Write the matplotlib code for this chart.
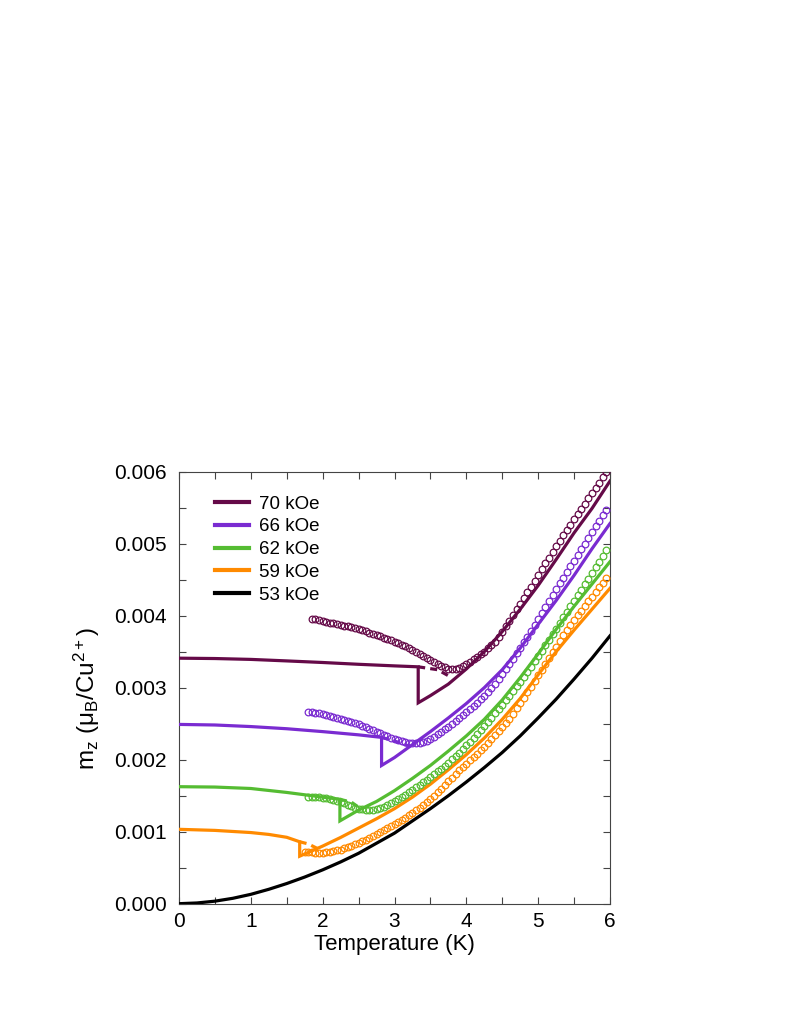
import numpy as np
import matplotlib
matplotlib.use("Agg")
import matplotlib.pyplot as plt
from matplotlib.ticker import MultipleLocator, FormatStrFormatter

plt.rcParams['font.family'] = ['Liberation Sans', 'DejaVu Sans']
plt.rcParams['mathtext.fontset'] = 'custom'
plt.rcParams['mathtext.rm'] = 'Liberation Sans'
plt.rcParams['mathtext.it'] = 'Liberation Sans'

fields = ["70 kOe", "66 kOe", "62 kOe", "59 kOe", "53 kOe"]
colors = ["#650A48", "#7A2BD1", "#55BC32", "#FF8A00", "#000000"]

# ---- model curves: high-field branch, then low branch after the jump ----
t70_hi = [0, 0.5, 1, 1.5, 2, 2.5, 3, 3.33]
m70_hi = [0.00341, 0.003405, 0.003393, 0.003372, 0.00335, 0.003325, 0.003303, 0.00329]
t70_lo = [3.33, 3.5, 3.75, 4.0, 4.25, 4.5, 4.75, 5.0, 5.25, 5.5, 5.75, 6.0]
m70_lo = [0.00279, 0.00289, 0.00305, 0.00326, 0.0035, 0.00378, 0.00409, 0.00442, 0.00478, 0.00515, 0.00549, 0.00587]
t70_ds = [3.33, 3.6, 3.78]
m70_ds = [0.00329, 0.00325, 0.00315]

t66_hi = [0, 0.5, 1, 1.5, 2, 2.5, 2.82]
m66_hi = [0.00249, 0.002482, 0.00246, 0.00243, 0.00239, 0.002345, 0.00231]
t66_lo = [2.82, 3.0, 3.25, 3.5, 3.75, 4.0, 4.25, 4.5, 4.75, 5.0, 5.25, 5.5, 5.75, 6.0]
m66_lo = [0.00192, 0.00203, 0.00221, 0.00239, 0.00258, 0.00278, 0.003, 0.00325, 0.00355, 0.00388, 0.00421, 0.00456, 0.00493, 0.00528]
t66_ds = [2.82, 3.0, 3.2]
m66_ds = [0.00231, 0.00226, 0.00219]

t62_hi = [0, 0.5, 1, 1.5, 2, 2.24]
m62_hi = [0.001625, 0.00162, 0.0016, 0.001545, 0.00148, 0.00145]
t62_lo = [2.24, 2.5, 2.75, 3.0, 3.25, 3.5, 3.75, 4.0, 4.25, 4.5, 4.75, 5.0, 5.25, 5.5, 5.75, 6.0]
m62_lo = [0.00115, 0.0013, 0.00142, 0.00157, 0.00174, 0.00192, 0.00212, 0.00233, 0.00256, 0.00283, 0.00314, 0.00347, 0.00381, 0.00413, 0.00444, 0.00475]
t62_ds = [2.24, 2.4, 2.5]
m62_ds = [0.00145, 0.00141, 0.00134]

t59_hi = [0, 0.5, 1, 1.25, 1.5, 1.68]
m59_hi = [0.001033, 0.001018, 0.000988, 0.000962, 0.000922, 0.00086]
t59_lo = [1.68, 2.0, 2.25, 2.5, 2.75, 3.0, 3.25, 3.5, 3.75, 4.0, 4.25, 4.5, 4.75, 5.0, 5.25, 5.5, 5.75, 6.0]
m59_lo = [0.00066, 0.0008, 0.00092, 0.00105, 0.00118, 0.00132, 0.00148, 0.00166, 0.00186, 0.00207, 0.0023, 0.00256, 0.00285, 0.00318, 0.0035, 0.0038, 0.00409, 0.00438]
t59_ds = [1.68, 1.8, 1.92]
m59_ds = [0.00086, 0.00083, 0.00077]

t53 = [0, 0.25, 0.5, 0.75, 1, 1.25, 1.5, 1.75, 2, 2.25, 2.5, 2.75, 3, 3.25, 3.5, 3.75, 4, 4.25, 4.5, 4.75, 5, 5.25, 5.5, 5.75, 6]
m53 = [0, 0.00001, 0.000035, 0.000075, 0.00013, 0.0002, 0.00028, 0.00037, 0.00047, 0.00058, 0.0007, 0.00084, 0.00098, 0.00115, 0.00132, 0.0015, 0.00169, 0.00189, 0.0021, 0.00233, 0.00258, 0.00284, 0.00312, 0.00341, 0.00372]

# ---- measured data (open circles), T from start to end in 0.05 K steps ----
d70_t = (1.85, 5.95)
d70_m = [0.003960, 0.003950, 0.003940, 0.003930, 0.003918, 0.003905, 0.003892, 0.003882, 0.003872, 0.003862,
         0.003852, 0.003842, 0.003830, 0.003816, 0.003800, 0.003784, 0.003766, 0.003748, 0.003730, 0.003713,
         0.003695, 0.003677, 0.003658, 0.003640, 0.003620, 0.003598, 0.003576, 0.003553, 0.003528, 0.003500,
         0.003472, 0.003444, 0.003416, 0.003388, 0.003360, 0.003333, 0.003307, 0.003283, 0.003266, 0.003256,
         0.003255, 0.003268, 0.003296, 0.003330, 0.003362, 0.003395, 0.003428, 0.003462, 0.003500, 0.003545,
         0.003592, 0.003640, 0.003700, 0.003770, 0.003850, 0.003930, 0.004010, 0.004088, 0.004166, 0.004245,
         0.004325, 0.004405, 0.004485, 0.004565, 0.004645, 0.004725, 0.004805, 0.004885, 0.004962, 0.005040,
         0.005115, 0.005190, 0.005265, 0.005340, 0.005412, 0.005484, 0.005556, 0.005628, 0.005700, 0.005775,
         0.005850, 0.005925, 0.006000]

d66_t = (1.80, 5.95)
d66_m = [0.002667, 0.002660, 0.002652, 0.002644, 0.002634, 0.002622, 0.002610, 0.002597, 0.002583, 0.002569,
         0.002555, 0.002540, 0.002524, 0.002508, 0.002490, 0.002470, 0.002450, 0.002430, 0.002410, 0.002389,
         0.002368, 0.002348, 0.002328, 0.002308, 0.002290, 0.002272, 0.002255, 0.002240, 0.002230, 0.002225,
         0.002226, 0.002232, 0.002245, 0.002265, 0.002290, 0.002320, 0.002352, 0.002386, 0.002422, 0.002460,
         0.002498, 0.002536, 0.002575, 0.002615, 0.002658, 0.002702, 0.002747, 0.002793, 0.002840, 0.002888,
         0.002938, 0.002990, 0.003050, 0.003116, 0.003184, 0.003254, 0.003326, 0.003400, 0.003476, 0.003552,
         0.003630, 0.003710, 0.003790, 0.003870, 0.003950, 0.004035, 0.004120, 0.004205, 0.004287, 0.004368,
         0.004448, 0.004528, 0.004607, 0.004686, 0.004765, 0.004844, 0.004923, 0.005002, 0.005081, 0.005160,
         0.005240, 0.005320, 0.005400, 0.005475]

d62_t = (1.80, 5.95)
d62_m = [0.001486, 0.001484, 0.001481, 0.001476, 0.001469, 0.001461, 0.001451, 0.001440, 0.001427, 0.001412,
         0.001395, 0.001375, 0.001354, 0.001335, 0.001320, 0.001310, 0.001304, 0.001302, 0.001306, 0.001314,
         0.001326, 0.001345, 0.001368, 0.001393, 0.001420, 0.001450, 0.001481, 0.001513, 0.001546, 0.001580,
         0.001615, 0.001650, 0.001686, 0.001723, 0.001760, 0.001798, 0.001837, 0.001877, 0.001918, 0.001960,
         0.002003, 0.002050, 0.002099, 0.002149, 0.002200, 0.002252, 0.002305, 0.002359, 0.002414, 0.002470,
         0.002527, 0.002585, 0.002644, 0.002704, 0.002765, 0.002827, 0.002890, 0.002954, 0.003019, 0.003085,
         0.003152, 0.003220, 0.003289, 0.003366, 0.003440, 0.003516, 0.003592, 0.003668, 0.003745, 0.003822,
         0.003899, 0.003976, 0.004053, 0.004130, 0.004207, 0.004284, 0.004361, 0.004438, 0.004515, 0.004592,
         0.004670, 0.004750, 0.004830, 0.004910]

d59_t = (1.75, 5.95)
d59_m = [0.000720, 0.000716, 0.000712, 0.000709, 0.000707, 0.000708, 0.000712, 0.000719, 0.000728, 0.000739,
         0.000752, 0.000767, 0.000784, 0.000803, 0.000824, 0.000846, 0.000868, 0.000890, 0.000913, 0.000938,
         0.000963, 0.000990, 0.001017, 0.001045, 0.001074, 0.001103, 0.001133, 0.001164, 0.001196, 0.001229,
         0.001263, 0.001298, 0.001334, 0.001371, 0.001409, 0.001455, 0.001500, 0.001548, 0.001597, 0.001647,
         0.001698, 0.001750, 0.001800, 0.001850, 0.001898, 0.001945, 0.001990, 0.002035, 0.002080, 0.002128,
         0.002178, 0.002230, 0.002283, 0.002337, 0.002392, 0.002448, 0.002505, 0.002570, 0.002640, 0.002712,
         0.002785, 0.002860, 0.002936, 0.003013, 0.003091, 0.003170, 0.003250, 0.003330, 0.003410, 0.003490,
         0.003570, 0.003650, 0.003730, 0.003805, 0.003875, 0.003940, 0.004005, 0.004070, 0.004135, 0.004200,
         0.004265, 0.004330, 0.004395, 0.004460, 0.004528]

fig = plt.figure(figsize=(7.89, 10.21), dpi=100)
ax = fig.add_axes([0.2269, 0.1149, 0.5462, 0.4231])

lw = 2.3
model = [
    (t70_hi, m70_hi, t70_lo, m70_lo, t70_ds, m70_ds),
    (t66_hi, m66_hi, t66_lo, m66_lo, t66_ds, m66_ds),
    (t62_hi, m62_hi, t62_lo, m62_lo, t62_ds, m62_ds),
    (t59_hi, m59_hi, t59_lo, m59_lo, t59_ds, m59_ds),
]
for (th, mh, tl, ml, td, md), c, lab in zip(model, colors[:4], fields[:4]):
    ax.plot(list(th) + list(tl), list(mh) + list(ml), color=c, lw=lw, label=lab,
            solid_joinstyle='miter', zorder=3)
    ax.plot(td, md, color=c, lw=lw, linestyle=(0, (2.2, 1.6)), zorder=3)
ax.plot(t53, m53, color=colors[4], lw=lw, label=fields[4], zorder=3)

data = [(d70_t, d70_m), (d66_t, d66_m), (d62_t, d62_m), (d59_t, d59_m)]
for (tr, mv), c in zip(data, colors[:4]):
    tt = np.linspace(tr[0], tr[1], len(mv))
    ax.plot(tt, mv, linestyle='none', marker='o', ms=4.8, mfc='none', mec=c, mew=0.9, zorder=4)

ax.set_xlim(0, 6)
ax.set_ylim(0, 0.006)
ax.xaxis.set_major_locator(MultipleLocator(1))
ax.xaxis.set_minor_locator(MultipleLocator(0.5))
ax.yaxis.set_major_locator(MultipleLocator(0.001))
ax.yaxis.set_minor_locator(MultipleLocator(0.0005))
ax.yaxis.set_major_formatter(FormatStrFormatter('%.3f'))
ax.tick_params(which='both', direction='in', top=True, right=True, colors='#444444',
               labelcolor='black', labelsize=15, width=0.8)
ax.tick_params(which='major', length=5)
ax.tick_params(which='minor', length=5)
ax.tick_params(axis='x', pad=6)
ax.tick_params(axis='y', pad=9)
for s in ax.spines.values():
    s.set_color('#444444')
    s.set_linewidth(0.8)

ax.set_xlabel('Temperature (K)', fontsize=16, labelpad=2)
ax.set_ylabel(r'm$_\mathregular{z}$ ($\mathregular{\mu_B}$/Cu$^\mathregular{2+}$)', fontsize=17.5)
ax.yaxis.set_label_coords(-0.178, 0.475)

leg = ax.legend(loc='upper left', bbox_to_anchor=(0.065, 0.962), frameon=False, fontsize=13.5,
                handlelength=1.85, handletextpad=0.5, labelspacing=0.3, borderaxespad=0)
for h in leg.get_lines():
    h.set_linewidth(3.0)

fig.savefig('out.png', dpi=100)
